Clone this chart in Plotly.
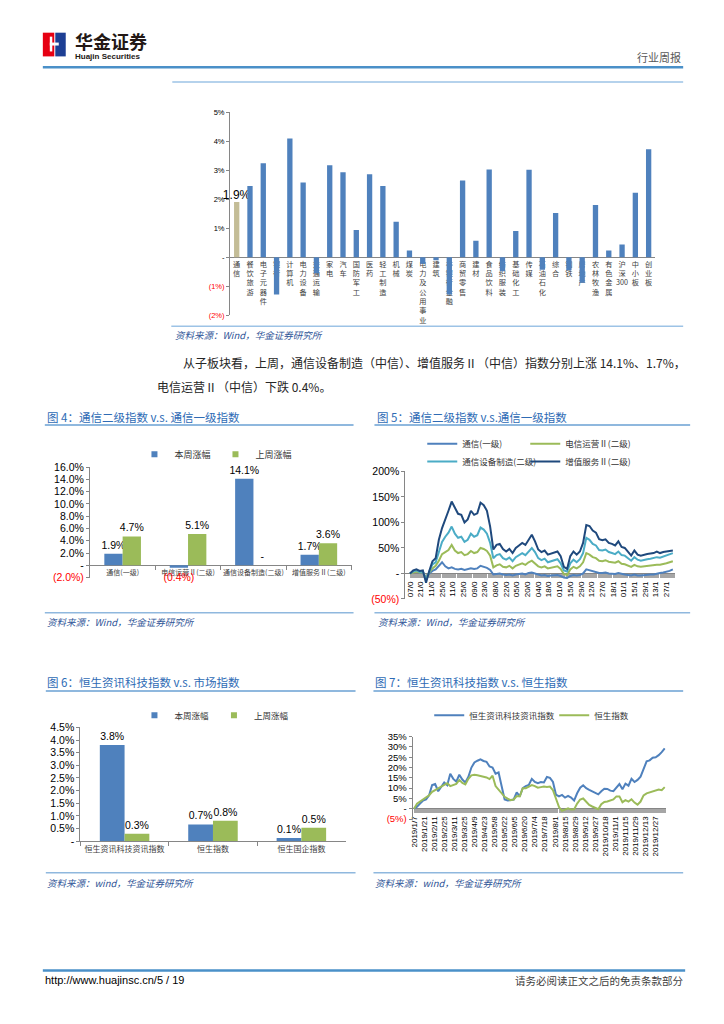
"""Huajin Securities weekly report page 5: sector bars, telecom and Hang Seng IT charts."""

import re

import plotly.graph_objects as go

W, H = 724, 1024
LATIN = "Liberation Sans, Noto Sans CJK SC, sans-serif"
CJK = "Noto Sans CJK SC, Liberation Sans, sans-serif"

BLUE = "#4f81bd"
GREEN = "#9bbb59"
TAN = "#c4bd97"
CYAN = "#4bacc6"
NAVY = "#1f497d"
RED = "#ff0000"
AXIS = "#868686"
RULE = "#4a90c8"
THIN = "#9dc3e6"
TITLE = "#2e6bb5"
SOURCE = "#2f5597"

# ---- weekly change by sector (%), top chart ----
sector_names = [
    "通信", "餐饮旅游", "电子元器件", "银行", "计算机", "电力设备", "交通运输", "家电",
    "汽车", "国防军工", "医药", "轻工制造", "机械", "煤炭", "电力及公用事业", "建筑",
    "非银行金融", "商贸零售", "建材", "食品饮料", "纺织服装", "基础化工", "传媒", "石油石化",
    "综合", "钢铁", "房地产", "农林牧渔", "有色金属", "沪深300", "中小板", "创业板",
]
sector_week_pct = [
    1.9, 2.45, 3.24, -1.28, 4.09, 2.57, -0.55, 3.17,
    2.93, 0.94, 2.86, 2.45, 1.22, 0.23, -0.22, -0.10,
    -1.28, 2.64, 0.57, 3.02, -0.48, 0.90, 3.01, -0.43,
    1.52, -0.45, -0.88, 1.80, 0.23, 0.44, 2.22, 3.72,
]
sector_ticks = [-2, -1, 0, 1, 2, 3, 4, 5]

# ---- fig 4: telecom sub-indices, this week vs last week (%) ----
tel_cats = ["通信(一级)", "电信运营Ⅱ(二级)", "通信设备制造(二级)", "增值服务Ⅱ(二级)"]
tel_this_week = [1.9, -0.4, 14.1, 1.7]
tel_last_week = [4.7, 5.1, 0.0, 3.6]
tel_bar_ticks = [-2, 0, 2, 4, 6, 8, 10, 12, 14, 16]

# ---- fig 5: cumulative change of telecom indices (%), every 3rd trading day ----
tel_day_index = list(range(0, 247, 3))
tel_lvl1 = [
    0, 3, 4, 2, 2, -8, 0, 5, 8, 14,
    22, 14, 10, 12, 9, 8, 9, 7, 8, 10,
    9, 10, 15, 13, 11, 7, -2, -1, 0, -2,
    -3, -2, -4, -2, -1, 0, -2, 1, 2, 0,
    -3, -4, -3, -5, -4, -4, -3, -5, -8, -9,
    -5, -3, -4, -3, 0, 8, 6, 4, 3, 1,
    1, 2, 0, 0, -1, 1, -1, -2, -3, -4,
    -2, -4, -4, -3, -3, -2, -2, 0, 1, 2,
    3, 5, 8,
]
tel_operator = [
    0, 2, 4, 2, 3, -10, 2, 10, 15, 25,
    38, 42, 46, 56, 45, 40, 42, 36, 38, 44,
    40, 42, 50, 48, 44, 35, 12, 16, 18, 13,
    12, 15, 10, 15, 18, 20, 17, 22, 25, 20,
    14, 12, 14, 10, 11, 12, 14, 9, -1, -3,
    8, 13, 10, 14, 22, 40, 37, 32, 30, 25,
    24, 26, 23, 22, 21, 24, 19, 18, 16, 13,
    17, 14, 13, 14, 14, 15, 16, 17, 17, 18,
    20, 22, 24,
]
tel_equipment = [
    0, 4, 6, 3, 4, -12, 3, 18, 22, 40,
    62, 72, 80, 92, 78, 70, 72, 62, 66, 78,
    72, 75, 90, 86, 78, 60, 30, 36, 38, 30,
    27, 31, 24, 32, 36, 40, 36, 44, 50, 42,
    30, 26, 29, 22, 24, 25, 28, 20, 6, 4,
    20, 27, 22, 28, 40, 70, 66, 58, 55, 46,
    45, 47, 42, 40, 38, 43, 36, 35, 30, 25,
    32, 27, 25, 27, 28, 29, 30, 32, 31, 33,
    35, 37, 40,
]
tel_value_added = [
    0, 6, 8, 5, 6, -18, 5, 24, 30, 66,
    89, 105, 123, 141, 128, 117, 115, 100, 106, 123,
    115, 118, 139, 134, 123, 92, 47, 56, 58, 48,
    43, 48, 40, 50, 55, 60, 56, 66, 76, 63,
    47, 42, 45, 37, 39, 40, 43, 34, 13, 9,
    34, 43, 37, 43, 60, 95, 93, 84, 80, 67,
    65, 67, 60, 58, 55, 63, 52, 50, 43, 35,
    45, 37, 35, 37, 38, 39, 40, 43, 40, 42,
    43, 44, 45,
]
tel_tick_text = [
    "07/0", "21/0", "11/0", "25/0", "11/0", "25/0", "09/0", "23/0", "08/0", "22/0",
    "05/0", "20/0", "04/0", "18/0", "01/0", "15/0", "29/0", "12/0", "27/0", "18/1",
    "01/1", "15/1", "29/1", "13/1", "27/1",
]
tel_line_ticks = [-50, 0, 50, 100, 150, 200]

# ---- fig 6: Hang Seng indices, this week vs last week (%) ----
hs_cats = ["恒生资讯科技资讯指数", "恒生指数", "恒生国企指数"]
hs_this_week = [3.81, 0.66, 0.12]
hs_last_week = [0.29, 0.81, 0.53]
hs_bar_ticks = [0, 0.5, 1.0, 1.5, 2.0, 2.5, 3.0, 3.5, 4.0, 4.5]

# ---- fig 7: cumulative change in 2019 (%), every 3rd trading day ----
hs_day_index = list(range(0, 250, 3))
hs_tech = [
    0, 1, 2.5, 4, 4.5, 6.5, 11.5, 12, 8.5, 10.8,
    12.7, 11.4, 17, 14.5, 13.2, 16.5, 14.2, 12.8, 15.5, 20,
    22.5, 23.3, 24, 23.2, 22.8, 20.5, 20, 17, 17.6, 11,
    4.5, 4, 4.2, 4.5, 8, 6, 10, 11, 11.5, 14.5,
    13, 12.4, 13, 12.8, 15.4, 15, 13, 6.8, 6, 6.7,
    5.4, 6.2, 5.4, 4, 7.5, 10.2, 11.4, 10, 9.2, 8.5,
    8, 7, 8.5, 9.7, 9.6, 8.8, 8.5, 10.5, 12, 9.5,
    12.2, 11.2, 14.5, 13, 14, 15.6, 19, 23, 23.5, 24.8,
    25, 26, 27.5, 29.3,
]
hs_index = [
    0, 2.4, 3.5, 4.4, 5.2, 6.5, 8.2, 9, 10, 10.8,
    11.4, 12.4, 11, 11.6, 12.1, 14, 12.5, 11.8, 14.5, 16.2,
    16.5, 16.3, 16, 15.6, 15.2, 14.4, 16, 11, 9.4, 7.5,
    5.8, 4.9, 4.2, 4.5, 6.2, 6, 10, 10, 10.6, 11.5,
    11, 10.2, 10.5, 10.8, 10.6, 10.8, 9, 4.5, 0.8, -1,
    -0.5, 0.2, -0.4, -0.3, 2.5, 4.5, 5, 3.3, 1.9, 1.1,
    0.4, -0.2, 2.2, 3.3, 3.5, 4, 4.5, 6, 6, 3.2,
    4.2, 3.5, 4.6, 3, 2, 3.5, 6.5, 7.5, 7.9, 8.3,
    9, 9.3, 9, 10.5,
]
hs_tick_text = [
    "2019/1/7", "2019/1/21", "2019/2/11", "2019/2/25", "2019/3/11", "2019/3/25",
    "2019/4/9", "2019/4/23", "2019/5/8", "2019/5/22", "2019/6/5", "2019/6/20",
    "2019/7/4", "2019/7/18", "2019/8/1", "2019/8/15", "2019/8/29", "2019/9/12",
    "2019/9/27", "2019/10/18", "2019/11/1", "2019/11/15", "2019/11/29", "2019/12/13",
    "2019/12/27",
]
hs_line_ticks = [-5, 0, 5, 10, 15, 20, 25, 30, 35]


def px(x):
    return x / W


def py(y):
    return 1 - y / H


def axis_pct(v, decimals):
    if v == 0:
        return "-"
    s = f"{abs(v):.{decimals}f}%"
    return f'<span style="color:{RED}">({s})</span>' if v < 0 else s


def bar_label(v):
    if v == 0:
        return "-"
    return f"({abs(v):.1f}%)" if v < 0 else f"{v:.1f}%"


def stacked(name):
    # vertical CJK label: one glyph per line, digit runs kept together
    return "<br>".join(re.findall(r"\d+|.", name))


def day_ticks(n_days, labels):
    vals = list(range(n_days))
    text = [labels[d // 10] if d % 10 == 0 and d // 10 < len(labels) else "" for d in vals]
    return vals, text


fig = go.Figure()

# top chart
fig.add_trace(go.Bar(
    x=sector_names, y=sector_week_pct, width=0.4,
    marker=dict(color=[TAN if n == "通信" else BLUE for n in sector_names], line_width=0),
    text=[f"{v:.1f}%" if n == "通信" else "" for n, v in zip(sector_names, sector_week_pct)],
    textposition="outside", constraintext="none", cliponaxis=False,
    textfont=dict(size=12, color="#000000", family=LATIN),
    xaxis="x", yaxis="y", showlegend=False, hoverinfo="skip",
))

# fig 4
for name, vals, color, grp in [("本周涨幅", tel_this_week, BLUE, "a"),
                               ("上周涨幅", tel_last_week, GREEN, "b")]:
    fig.add_trace(go.Bar(
        x=tel_cats, y=vals, name=name, offsetgroup=grp,
        marker=dict(color=color, line_width=0),
        text=[bar_label(v) for v in vals], textposition="outside",
        constraintext="none", cliponaxis=False,
        textfont=dict(size=10.5, family=LATIN, color=[RED if v < 0 else "#000000" for v in vals]),
        xaxis="x2", yaxis="y2", showlegend=False, hoverinfo="skip",
    ))
    fig.add_trace(go.Scatter(
        x=[None], y=[None], mode="markers", name=name,
        marker=dict(symbol="square", size=6, color=color),
        xaxis="x2", yaxis="y2", legend="legend",
    ))

# fig 5 (two legend rows, two columns each)
for name, vals, color, leg, lw in [("通信(一级)", tel_lvl1, BLUE, "legend2", 58),
                                   ("电信运营Ⅱ(二级)", tel_operator, GREEN, "legend2", 90),
                                   ("通信设备制造(二级)", tel_equipment, CYAN, "legend3", 58),
                                   ("增值服务Ⅱ(二级)", tel_value_added, NAVY, "legend3", 90)]:
    fig.add_trace(go.Scatter(
        x=tel_day_index, y=vals, name=name, mode="lines", legendwidth=lw,
        line=dict(color=color, width=2), xaxis="x3", yaxis="y3", legend=leg,
        hoverinfo="skip",
    ))

# fig 6
for name, vals, color, grp in [("本周涨幅", hs_this_week, BLUE, "a"),
                               ("上周涨幅", hs_last_week, GREEN, "b")]:
    fig.add_trace(go.Bar(
        x=hs_cats, y=vals, name=name, offsetgroup=grp,
        marker=dict(color=color, line_width=0),
        text=[bar_label(v) for v in vals], textposition="outside",
        constraintext="none", cliponaxis=False,
        textfont=dict(size=10.5, family=LATIN, color="#000000"),
        xaxis="x4", yaxis="y4", showlegend=False, hoverinfo="skip",
    ))
    fig.add_trace(go.Scatter(
        x=[None], y=[None], mode="markers", name=name,
        marker=dict(symbol="square", size=6, color=color),
        xaxis="x4", yaxis="y4", legend="legend4",
    ))

# fig 7
for name, vals, color, lw in [("恒生资讯科技资讯指数", hs_tech, BLUE, 80), ("恒生指数", hs_index, GREEN, 50)]:
    fig.add_trace(go.Scatter(
        x=hs_day_index, y=vals, name=name, mode="lines", legendwidth=lw,
        line=dict(color=color, width=2), xaxis="x5", yaxis="y5", legend="legend5",
        hoverinfo="skip",
    ))

common_x = dict(showgrid=False, zeroline=False, showline=True, linecolor=AXIS, linewidth=1,
                tickcolor=AXIS, layer="below traces", fixedrange=True)
common_y = dict(showgrid=False, zeroline=False, showline=True, linecolor=AXIS, linewidth=1,
                ticks="outside", ticklen=3, tickcolor=AXIS, fixedrange=True)

tel_vals, tel_text = day_ticks(249, tel_tick_text)
hs_vals, hs_text = day_ticks(251, hs_tick_text)

fig.update_layout(
    width=W, height=H, autosize=False,
    margin=dict(l=0, r=0, t=0, b=0),
    paper_bgcolor="white", plot_bgcolor="white",
    barmode="group", bargap=0.44, bargroupgap=0,
    hovermode=False,
    font=dict(family=LATIN, color="#000000"),
    # top chart
    xaxis=dict(common_x, domain=[px(228), px(655)], anchor="free", position=py(254),
               type="category", tickmode="array", tickvals=sector_names,
               ticktext=[stacked(n) for n in sector_names], ticks="",
               tickfont=dict(size=7.2, family=CJK, color="#404040"), tickangle=0),
    yaxis=dict(common_y, domain=[py(313), py(107.3)], range=[-2, 5], anchor="x",
               tickmode="array", tickvals=sector_ticks,
               ticktext=[axis_pct(v, 0) for v in sector_ticks],
               tickfont=dict(size=7.5)),
    # fig 4
    xaxis2=dict(common_x, domain=[px(87.3), px(350)], anchor="free", position=py(565.9),
                type="category", ticks="outside", ticklen=4, tickson="boundaries",
                tickfont=dict(size=7, family=CJK, color="#404040"), tickangle=0),
    yaxis2=dict(common_y, domain=[py(578.3), py(466.7)], range=[-2, 16], anchor="x2",
                tickmode="array", tickvals=tel_bar_ticks,
                ticktext=[axis_pct(v, 1) for v in tel_bar_ticks],
                tickfont=dict(size=10.5)),
    # fig 5
    xaxis3=dict(common_x, domain=[px(404), px(675)], range=[-4.38, 248.2],
                anchor="free", position=py(574.2), tickmode="array",
                tickvals=tel_vals, ticktext=tel_text, ticks="outside", ticklen=4,
                tickcolor="#a6a6a6", tickangle=-90, tickfont=dict(size=8)),
    yaxis3=dict(common_y, domain=[py(600), py(471)], range=[-50, 200], anchor="x3",
                tickmode="array", tickvals=tel_line_ticks,
                ticktext=[axis_pct(v, 0) for v in tel_line_ticks],
                tickfont=dict(size=10.5)),
    # fig 6
    xaxis4=dict(common_x, domain=[px(77.7), px(344)], anchor="y4",
                type="category", ticks="outside", ticklen=4, tickson="boundaries",
                tickfont=dict(size=8, family=CJK, color="#404040"), tickangle=0),
    yaxis4=dict(common_y, domain=[py(845), py(730)], range=[0, 4.5], anchor="x4",
                tickmode="array", tickvals=hs_bar_ticks,
                ticktext=[axis_pct(v, 1) for v in hs_bar_ticks],
                tickfont=dict(size=10.5)),
    # fig 7
    xaxis5=dict(common_x, domain=[px(411.3), px(665.5)], range=[-1.4, 250],
                anchor="free", position=py(811.7), tickmode="array",
                tickvals=hs_vals, ticktext=hs_text, ticks="outside", ticklen=4,
                tickcolor="#a6a6a6", tickangle=-90, tickfont=dict(size=8)),
    yaxis5=dict(common_y, domain=[py(822.7), py(739.3)], range=[-5, 35], anchor="x5",
                tickmode="array", tickvals=hs_line_ticks,
                ticktext=[axis_pct(v, 0) for v in hs_line_ticks],
                tickfont=dict(size=9.5)),
)

leg_common = dict(orientation="h", xanchor="left", yanchor="middle", bgcolor="rgba(0,0,0,0)",
                  font=dict(size=8.5, family=CJK, color="#333333"), itemclick=False,
                  itemdoubleclick=False)
fig.update_layout(
    legend=dict(leg_common, x=px(132), y=py(453.5), font=dict(size=9, family=CJK, color="#333333")),
    legend2=dict(leg_common, x=px(421), y=py(443)),
    legend3=dict(leg_common, x=px(421), y=py(461)),
    legend4=dict(leg_common, x=px(132), y=py(717.7)),
    legend5=dict(leg_common, x=px(428), y=py(717.7)),
)


def hline(x0, x1, y, color, width):
    fig.add_shape(type="line", xref="paper", yref="paper", x0=px(x0), x1=px(x1),
                  y0=py(y), y1=py(y), line=dict(color=color, width=width))


def rect(x0, y0, x1, y1, color):
    fig.add_shape(type="rect", xref="paper", yref="paper", x0=px(x0), x1=px(x1),
                  y0=py(y1), y1=py(y0), fillcolor=color, line_width=0, layer="above")


def label(x, y, s, size, color="#000000", anchor="left", family=CJK, **font):
    fig.add_annotation(xref="paper", yref="paper", x=px(x), y=py(y), text=s,
                       showarrow=False, xanchor=anchor, yanchor="middle",
                       font=dict(size=size, color=color, family=family, **font))


# header
rect(40, 27, 51.5, 51, "#e60012")
rect(52.5, 27, 63, 51, "#1d3f94")
rect(47, 37, 56, 40, "white")
rect(47, 31, 49.5, 46, "white")
label(70, 35, "华金证券", 18, "#231815", weight="bold")
label(70, 51, "Huajin Securities", 8, "#231815", family=LATIN, weight="bold")
label(683, 52, "行业周报", 11, "#595959", anchor="right")
hline(40, 683, 62, RULE, 2.5)
hline(170, 683, 77, THIN, 1.5)

# top chart source + paragraph
hline(169, 683, 324, THIN, 1.5)
label(171, 333, "资料来源：Wind，华金证券研究所", 9.5, SOURCE, style="italic")
label(179, 361, "从子板块看，上周，通信设备制造（中信）、增值服务Ⅱ（中信）指数分别上涨 14.1%、1.7%，",
      12, "#262626")
label(153, 385, "电信运营Ⅱ（中信）下跌 0.4%。", 12, "#262626")

# figure titles, rules and sources
label(42, 415.5, "图 4：通信二级指数 v.s. 通信一级指数", 11.5, TITLE)
label(374, 415.5, "图 5：通信二级指数 v.s.通信一级指数", 11.5, TITLE)
hline(42, 352, 424, "#8fb8de", 2)
hline(373, 690, 424, "#8fb8de", 2)
hline(42, 352, 614, "#8fb8de", 1.5)
hline(373, 690, 614, "#8fb8de", 1.5)
label(42, 623, "资料来源：Wind，华金证券研究所", 9.5, SOURCE, style="italic")
label(375, 623, "资料来源：Wind，华金证券研究所", 9.5, SOURCE, style="italic")

label(42, 684, "图 6：恒生资讯科技指数 v.s. 市场指数", 11.5, TITLE)
label(372, 684, "图 7：恒生资讯科技指数 v.s. 恒生指数", 11.5, TITLE)
hline(43, 354, 693, "#8fb8de", 2)
hline(372, 683, 693, "#8fb8de", 2)
hline(43, 354, 877, "#8fb8de", 1.5)
hline(372, 683, 877, "#8fb8de", 1.5)
label(42, 887, "资料来源：wind，华金证券研究所", 9.5, SOURCE, style="italic")
label(372, 887, "资料来源：wind，华金证券研究所", 9.5, SOURCE, style="italic")

# footer
hline(40, 685, 976, RULE, 2.5)
label(40, 986, "http://www.huajinsc.cn/5 / 19", 11, "#000000", family=LATIN)
label(685, 986, "请务必阅读正文之后的免责条款部分", 10.5, "#404040", anchor="right")

# the page is sized to the window exactly, so drop the browser's default body margin
fig.write_html("out.html", config={"displayModeBar": False},
               post_script="document.body.style.margin='0';")
